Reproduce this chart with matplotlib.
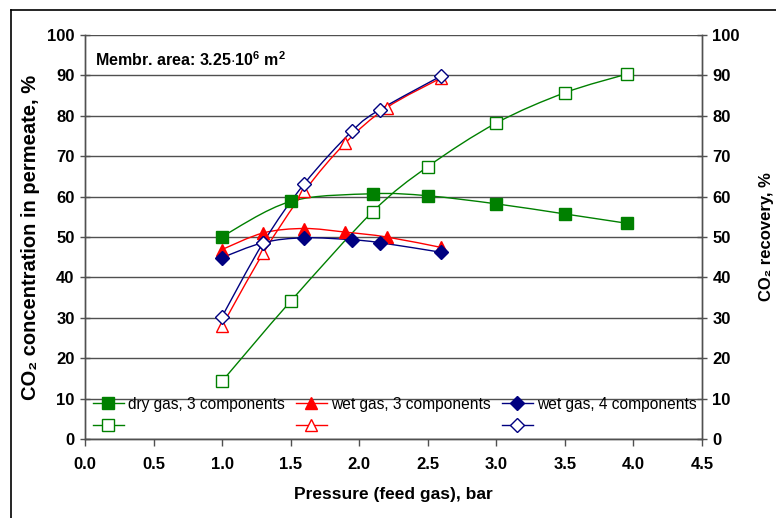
import numpy as np
import matplotlib
matplotlib.use('Agg')
import matplotlib.pyplot as plt
from matplotlib.path import Path
from matplotlib.patches import PathPatch
from matplotlib.lines import Line2D

# Fonts: Arial-like, with DejaVu as fallback for odd glyphs
plt.rcParams['font.family'] = ['Liberation Sans', 'DejaVu Sans']
plt.rcParams['mathtext.fontset'] = 'custom'
plt.rcParams['mathtext.rm'] = 'Liberation Sans:bold'
plt.rcParams['mathtext.bf'] = 'Liberation Sans:bold'
plt.rcParams['mathtext.default'] = 'bf'

# Data
x_dry = [1.0, 1.5, 2.1, 2.5, 3.0, 3.5, 3.95]
conc_dry = [50.1, 58.8, 60.7, 60.2, 58.2, 55.7, 53.4]
rec_dry = [14.3, 34.1, 56.3, 67.4, 78.2, 85.7, 90.3]

x_wet3 = [1.0, 1.3, 1.6, 1.9, 2.2, 2.6]
conc_wet3 = [46.9, 51.0, 52.1, 51.2, 50.0, 47.4]
rec_wet3 = [28.0, 46.0, 61.3, 73.3, 82.0, 89.4]

x_wet4 = [1.0, 1.3, 1.6, 1.95, 2.15, 2.6]
conc_wet4 = [44.9, 48.6, 49.8, 49.3, 48.6, 46.2]
rec_wet4 = [30.3, 48.6, 63.2, 76.3, 81.5, 89.9]

labels = ['dry gas, 3 components', 'wet gas, 3 components', 'wet gas, 4 components']

green = '#008000'
red = '#FF0000'
navy = '#000080'


def smooth_path(xs, ys):
    # Excel-style smoothed line: cubic Bezier through the points
    pts = np.column_stack([xs, ys]).astype(float)
    verts = [pts[0]]
    codes = [Path.MOVETO]
    n = len(pts)
    for i in range(n - 1):
        p0 = pts[max(i - 1, 0)]
        p1 = pts[i]
        p2 = pts[i + 1]
        p3 = pts[min(i + 2, n - 1)]
        c1 = p1 + (p2 - p0) / 6.0
        c2 = p2 - (p3 - p1) / 6.0
        verts += [c1, c2, p2]
        codes += [Path.CURVE4] * 3
    return Path(verts, codes)


fig = plt.figure(figsize=(7.76, 5.18), dpi=100)
ax = fig.add_axes([0.1095, 0.1525, 0.7951, 0.780])

# horizontal gridlines
ax.set_axisbelow(True)
ax.yaxis.grid(True, color='#505050', linewidth=1.0)

series = [
    (x_dry, conc_dry, rec_dry, green, 's', 8),
    (x_wet3, conc_wet3, rec_wet3, red, '^', 8.5),
    (x_wet4, conc_wet4, rec_wet4, navy, 'D', 7),
]

handles = []
hlabels = []
for (xs, c, r, col, mk, ms), lab in zip(series, labels):
    for ys, filled in [(c, True), (r, False)]:
        ax.add_patch(PathPatch(smooth_path(xs, ys), facecolor='none',
                               edgecolor=col, linewidth=1.0, zorder=3))
        ax.plot(xs, ys, linestyle='none', marker=mk, markersize=ms,
                markerfacecolor=col if filled else 'white',
                markeredgecolor=col, markeredgewidth=1.0, zorder=4)
    handles.append(Line2D([], [], color=col, lw=1.0, marker=mk, markersize=ms,
                          markerfacecolor=col, markeredgecolor=col))
    hlabels.append(lab)
    handles.append(Line2D([], [], color=col, lw=1.0, marker=mk, markersize=ms,
                          markerfacecolor='white', markeredgecolor=col))
    hlabels.append('')

ax.set_xlim(0, 4.5)
ax.set_ylim(0, 100)
ax.set_xticks(np.arange(0, 4.51, 0.5))
ax.set_yticks(np.arange(0, 101, 10))
ax.set_xticklabels(['%.1f' % v for v in np.arange(0, 4.51, 0.5)])

ax2 = ax.twinx()
ax2.set_ylim(0, 100)
ax2.set_yticks(np.arange(0, 101, 10))

for a in (ax, ax2):
    for s in a.spines.values():
        s.set_color('#505050')
        s.set_linewidth(1.0)
    a.spines['top'].set_visible(False)
ax.tick_params(axis='x', direction='out', length=5, width=1, color='#505050',
               labelsize=12, pad=8)
ax.tick_params(axis='y', direction='inout', length=7, width=1, color='#505050',
               labelsize=12, pad=4)
ax2.tick_params(axis='y', direction='inout', length=7, width=1, color='#505050',
                labelsize=12, pad=4)
for lbl in ax.get_xticklabels() + ax.get_yticklabels() + ax2.get_yticklabels():
    lbl.set_fontweight('bold')

ax.set_xlabel('Pressure (feed gas), bar', fontsize=12.5, fontweight='bold', labelpad=11)
ax.set_ylabel('CO\u2082 concentration in permeate, %', fontsize=14.5, fontweight='bold', labelpad=5)
ax2.set_ylabel('CO\u2082 recovery, %', fontsize=12, fontweight='bold', labelpad=14)

ax.text(0.016, 0.962, r'Membr. area: 3.25$\cdot$10$^{6}$ m$^{2}$', transform=ax.transAxes,
        fontsize=11.5, fontweight='bold', ha='left', va='top')

leg = ax.legend(handles, hlabels, ncol=3, loc='lower left', bbox_to_anchor=(0.004, 0.0),
                frameon=False, fontsize=11.2, handlelength=2.0, handletextpad=0.27,
                columnspacing=0.7, labelspacing=0.45, borderpad=0.2, borderaxespad=0.15)
leg.set_zorder(6)

# outer border of the original chart frame
fig.add_artist(Line2D([11 / 776, 11 / 776], [0, 1 - 10 / 518], color='black', lw=1.2,
                      transform=fig.transFigure))
fig.add_artist(Line2D([11 / 776, 1], [1 - 10 / 518, 1 - 10 / 518], color='black', lw=1.2,
                      transform=fig.transFigure))

fig.savefig('out.png', dpi=100)
